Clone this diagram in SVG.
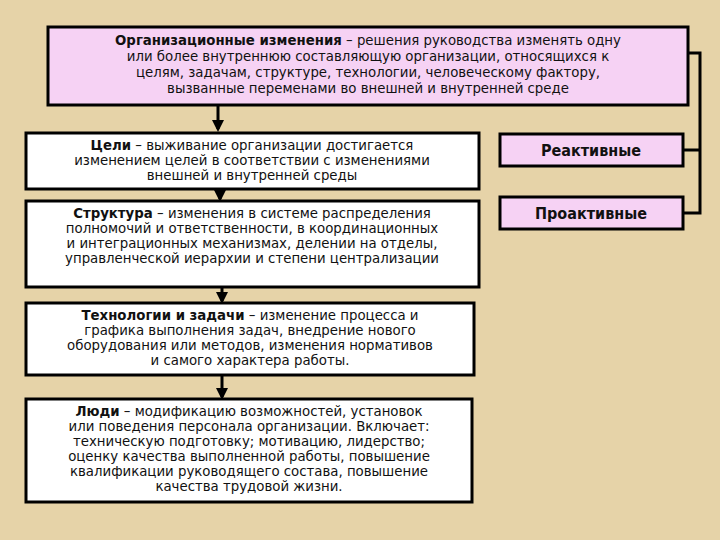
<svg xmlns="http://www.w3.org/2000/svg" width="720" height="540" viewBox="0 0 720 540">
<style>
.b{stroke:#000;stroke-width:3}
.w{fill:#fff}.p{fill:#f6d2f4}
text{font-family:"DejaVu Sans Condensed","DejaVu Sans",sans-serif;font-size:14.8px;fill:#111;text-anchor:middle}
.t{font-weight:bold}
.c{stroke:#000;stroke-width:3;fill:none}
</style>
<defs><marker id="a" markerWidth="4" markerHeight="4" refX="3" refY="2" orient="auto" markerUnits="strokeWidth"><path d="M0,0L4,2L0,4z" fill="#000"/></marker></defs>
<rect width="720" height="540" fill="#e6d3a8"/>
<g id="connectors">
<line class="c" x1="218" y1="106" x2="218" y2="129" marker-end="url(#a)"/>
<line class="c" x1="220" y1="190" x2="220" y2="199" marker-end="url(#a)"/>
<line class="c" x1="222" y1="287" x2="222" y2="301" marker-end="url(#a)"/>
<line class="c" x1="222" y1="375" x2="222" y2="397" marker-end="url(#a)"/>
<polyline class="c" points="688,53 700,53 700,213 683,213"/>
<line class="c" x1="683" y1="150" x2="700" y2="150"/>
</g>
<g id="top"><rect class="b p" x="48" y="27" width="640" height="78"/>
<text x="368" y="45"><tspan class="t">Организационные изменения</tspan> – решения руководства изменять одну</text>
<text x="368" y="61">или более внутреннюю составляющую организации, относящихся к</text>
<text x="368" y="77">целям, задачам, структуре, технологии, человеческому фактору,</text>
<text x="368" y="93">вызванные переменами во внешней и внутренней среде</text></g>
<g id="goals"><rect class="b w" x="26" y="133" width="453" height="56"/>
<text x="252" y="150"><tspan class="t">Цели</tspan> – выживание организации достигается</text>
<text x="252" y="165">изменением целей в соответствии с изменениями</text>
<text x="252" y="180">внешней и внутренней среды</text></g>
<g id="structure"><rect class="b w" x="26" y="201" width="453" height="86"/>
<text x="252" y="218"><tspan class="t">Структура</tspan> – изменения в системе распределения</text>
<text x="252" y="233">полномочий и ответственности, в координационных</text>
<text x="252" y="248">и интеграционных  механизмах, делении на отделы,</text>
<text x="252" y="263">управленческой иерархии и степени централизации</text></g>
<g id="tech"><rect class="b w" x="26" y="303" width="448" height="72"/>
<text x="250" y="320"><tspan class="t">Технологии и задачи</tspan> – изменение процесса и</text>
<text x="250" y="335">графика выполнения задач, внедрение нового</text>
<text x="250" y="350">оборудования или методов, изменения нормативов</text>
<text x="250" y="365">и самого характера работы.</text></g>
<g id="people"><rect class="b w" x="26" y="399" width="446" height="103"/>
<text x="249" y="416"><tspan class="t">Люди</tspan> – модификацию возможностей, установок</text>
<text x="249" y="431">или поведения персонала организации. Включает:</text>
<text x="249" y="446">техническую подготовку; мотивацию, лидерство;</text>
<text x="249" y="461">оценку качества выполненной работы, повышение</text>
<text x="249" y="476">квалификации руководящего состава, повышение</text>
<text x="249" y="491">качества трудовой жизни.</text></g>
<g id="reactive"><rect class="b p" x="500" y="134" width="183" height="32"/>
<text class="t" x="591" y="156" style="font-size:16px">Реактивные</text></g>
<g id="proactive"><rect class="b p" x="500" y="197" width="183" height="32"/>
<text class="t" x="591" y="219" style="font-size:16px">Проактивные</text></g>
</svg>
